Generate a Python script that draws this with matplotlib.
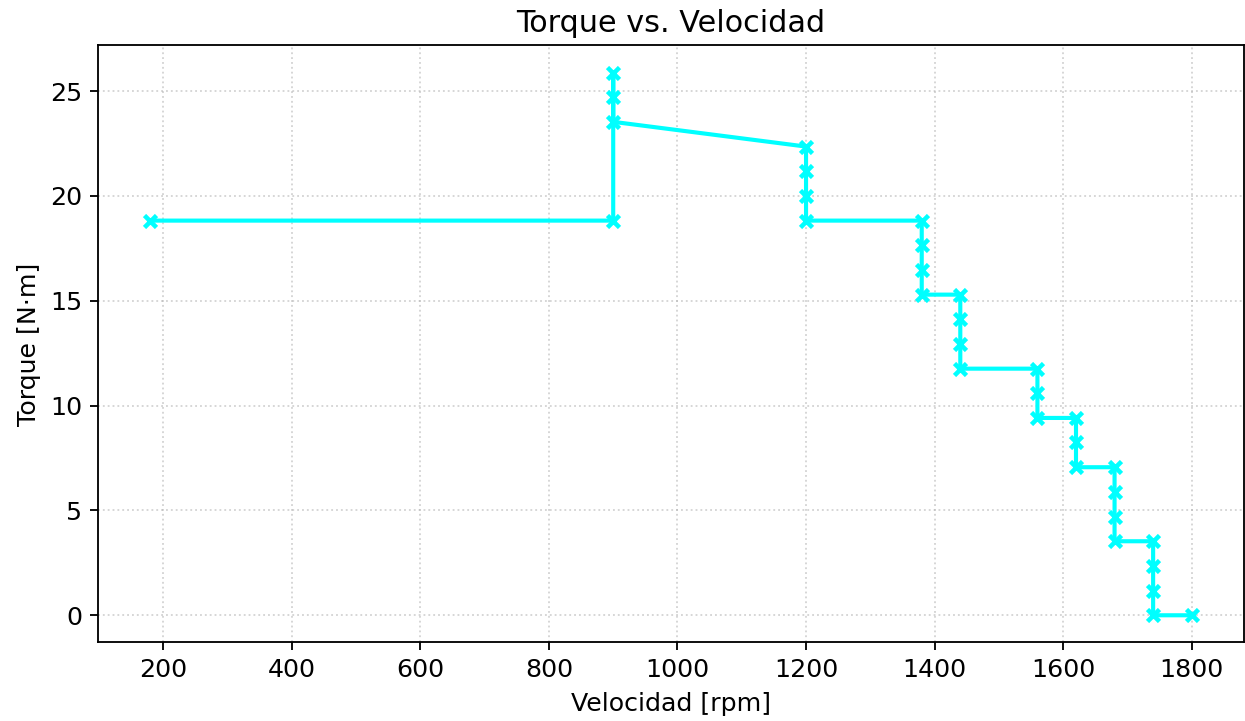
import matplotlib
matplotlib.use('Agg')
import matplotlib.pyplot as plt

# velocidad [rpm] y torque [N·m] por punto de operacion
velocidad = [180, 900, 900, 900, 900, 1200, 1200, 1200, 1200,
             1380, 1380, 1380, 1380, 1440, 1440, 1440, 1440,
             1560, 1560, 1560, 1620, 1620, 1620,
             1680, 1680, 1680, 1680, 1740, 1740, 1740, 1740, 1800]
torque = [18.82, 18.82, 25.88, 24.71, 23.53, 22.35, 21.18, 20.00, 18.82,
          18.82, 17.65, 16.47, 15.29, 15.29, 14.12, 12.94, 11.76,
          11.76, 10.59, 9.41, 9.41, 8.24, 7.06,
          7.06, 5.88, 4.71, 3.53, 3.53, 2.35, 1.18, 0.0, 0.0]

plt.rcParams['font.size'] = 11

fig = plt.figure(figsize=(1245/165, 721/165), dpi=165)
ax = fig.add_axes([0.079, 0.109, 0.920, 0.828])

ax.plot(velocidad, torque, color='cyan', linewidth=1.8,
        marker='x', markersize=5.5, markeredgewidth=2)

ax.set_title('Torque vs. Velocidad', fontsize=13.2)
ax.set_xlabel('Velocidad [rpm]')
ax.set_ylabel('Torque [N·m]')
ax.grid(True, linestyle=':', linewidth=0.8, alpha=0.55)

fig.savefig('out.png', dpi=165)
